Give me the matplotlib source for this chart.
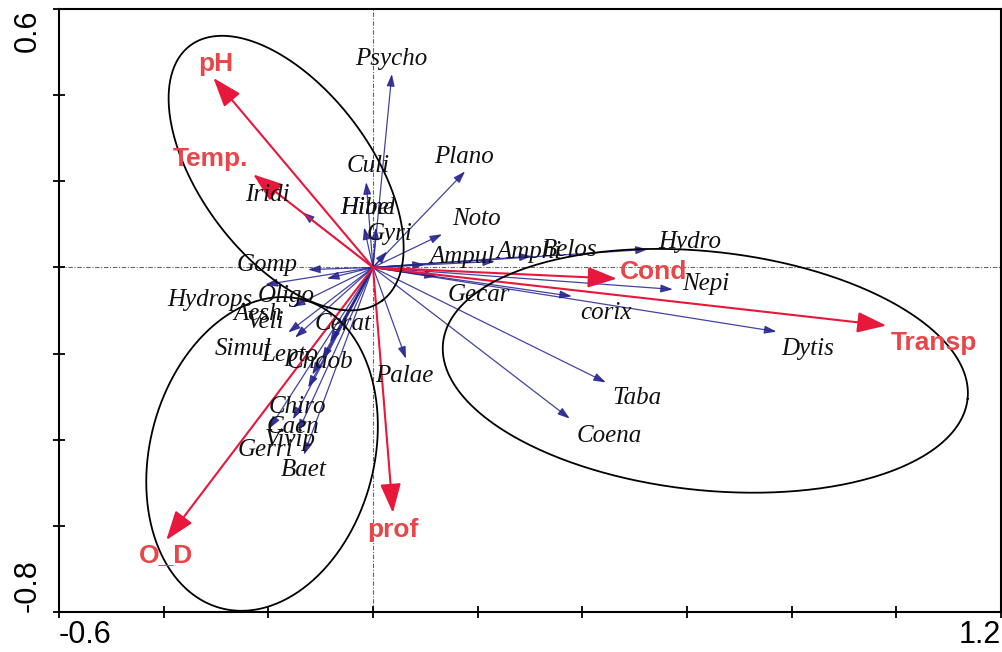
import numpy as np
import matplotlib
matplotlib.use("Agg")
import matplotlib.pyplot as plt

# ---- CCA biplot scores -------------------------------------------------
species = ["Psycho", "Plano", "Culi", "Hibel", "Hime", "Gyri", "Noto", "Iridi",
           "Gomp", "Hydrops", "Oligo", "Aesh", "Veli", "Simul", "Cerat",
           "Lepto", "Chaob", "Chiro", "Caen", "Gerri", "Vivip", "Baet",
           "Palae", "Ampul", "Amphi", "Belos", "Hydro", "Nepi", "Gecar",
           "corix", "Dytis", "Taba", "Coena"]
species_x = [0.036, 0.176, -0.013, -0.017, 0.006, 0.027, 0.132, -0.135,
             -0.124, -0.206, -0.088, -0.153, -0.162, -0.149, -0.082,
             -0.116, -0.097, -0.124, -0.153, -0.198, -0.143, -0.132,
             0.063, 0.099, 0.233, 0.303, 0.525, 0.573, 0.122,
             0.380, 0.771, 0.445, 0.376]
species_y = [0.449, 0.223, 0.198, 0.093, 0.093, 0.037, 0.077, 0.128,
             -0.005, -0.040, -0.026, -0.091, -0.151, -0.163, -0.174,
             -0.249, -0.214, -0.279, -0.353, -0.374, -0.381, -0.435,
             -0.212, 0.007, 0.014, 0.026, 0.042, -0.051, -0.021,
             -0.067, -0.149, -0.267, -0.351]

env_names = ["pH", "Temp.", "Cond", "Transp", "prof", "O_D"]
env_x = [-0.305, -0.229, 0.466, 0.981, 0.038, -0.395]
env_y = [0.440, 0.216, -0.026, -0.135, -0.570, -0.633]

x_ticks = [-0.6, -0.4, -0.2, 0.0, 0.2, 0.4, 0.6, 0.8, 1.0, 1.2]
y_ticks = [-0.8, -0.6, -0.4, -0.2, 0.0, 0.2, 0.4, 0.6]

# group envelopes: centre, semi-axes (x units), rotation (deg, screen space)
groups = [
    dict(cx=-0.166, cy=0.219, a=0.305, b=0.162, ang=-53.0),
    dict(cx=-0.212, cy=-0.433, a=0.305, b=0.214, ang=75.0),
    dict(cx=0.635, cy=-0.240, a=0.504, b=0.228, ang=-6.1),
]

# label placement relative to arrow tips (pixels)
sp_offsets = {
    "Psycho": (-1, 15), "Plano": (-1, 14), "Culi": (2, 16), "Hibel": (4, 19),
    "Hime": (-9, 19), "Gyri": (2, 17), "Noto": (34, 15), "Iridi": (-35, 17),
    "Gomp": (-41, 5), "Hydrops": (-55, -15), "Oligo": (-41, -17),
    "Aesh": (-35, -7), "Veli": (-23, 10), "Simul": (-52, -11),
    "Cerat": (13, 18), "Lepto": (-22, 20), "Chaob": (-2, -2),
    "Chiro": (-11, -19), "Caen": (0, -8), "Gerri": (-4, -21),
    "Vivip": (-8, -8), "Baet": (0, -15), "Palae": (-2, -17),
    "Ampul": (37, 7), "Amphi": (34, 9), "Belos": (38, 6), "Hydro": (42, 7),
    "Nepi": (33, 5), "Gecar": (42, -19), "corix": (34, -17),
    "Dytis": (31, -17), "Taba": (31, -16), "Coena": (39, -17),
}
env_offsets = {
    "pH": (2, 14), "Temp.": (-43, 15), "Cond": (37, 7),
    "Transp": (48, -17), "prof": (0, -17), "O_D": (0, -15),
}

SP_COLOR = "#23238f"
ENV_COLOR = "#e8173c"
ENV_TEXT = "#e8474a"

fig = plt.figure(figsize=(10.02, 6.52), dpi=100)
ax = fig.add_axes([59 / 1002, 40 / 652, 942 / 1002, 603 / 652])
ax.set_xlim(-0.6, 1.2)
ax.set_ylim(-0.8, 0.6)

# reference cross through the origin
ax.axhline(0, color="#666666", lw=0.8, ls=(0, (4, 1.5, 1, 1.5)), zorder=1)
ax.axvline(0, color="#666666", lw=0.8, ls=(0, (4, 1.5, 1, 1.5)), zorder=1)

# species arrows
for name, x, y in zip(species, species_x, species_y):
    ax.annotate("", xy=(x, y), xytext=(0, 0),
                arrowprops=dict(arrowstyle="-|>,head_length=0.9,head_width=0.3",
                                mutation_scale=8, lw=0.9, color=SP_COLOR,
                                shrinkA=0, shrinkB=0, alpha=0.85),
                zorder=2)

# environmental arrows
for name, x, y in zip(env_names, env_x, env_y):
    ax.annotate("", xy=(x, y), xytext=(0, 0),
                arrowprops=dict(arrowstyle="-|>,head_length=0.9,head_width=0.32",
                                mutation_scale=20, lw=1.5, color=ENV_COLOR,
                                shrinkA=0, shrinkB=0),
                zorder=3)

# envelopes drawn in screen-proportional space
fig.canvas.draw()
p0 = ax.transData.transform((0, 0))
p1 = ax.transData.transform((1, 1))
sx, sy = p1 - p0
t = np.linspace(0, 2 * np.pi, 400)
for g in groups:
    phi = np.deg2rad(g["ang"])
    du = g["a"] * np.cos(t) * np.cos(phi) - g["b"] * np.sin(t) * np.sin(phi)
    dv = g["a"] * np.cos(t) * np.sin(phi) + g["b"] * np.sin(t) * np.cos(phi)
    ax.plot(g["cx"] + du, g["cy"] + dv * sx / sy, color="black", lw=1.3,
            zorder=4)

# labels
for name, x, y in zip(species, species_x, species_y):
    ax.annotate(name, xy=(x, y), xytext=sp_offsets[name],
                textcoords="offset pixels", ha="center", va="center",
                fontsize=18, fontstyle="italic", family="Liberation Serif",
                color="#111111", zorder=5)
for name, x, y in zip(env_names, env_x, env_y):
    ax.annotate(name, xy=(x, y), xytext=env_offsets[name],
                textcoords="offset pixels", ha="center", va="center",
                fontsize=19, fontweight="bold", family="Liberation Sans",
                color=ENV_TEXT, zorder=5)

# axes frame and ticks
for s in ax.spines.values():
    s.set_linewidth(1.5)
ax.set_xticks(x_ticks)
ax.set_yticks(y_ticks)
ax.set_xticklabels([f"{v:g}" if i in (0, len(x_ticks) - 1) else ""
                    for i, v in enumerate(x_ticks)])
ax.set_yticklabels([f"{v:g}" if i in (0, len(y_ticks) - 1) else ""
                    for i, v in enumerate(y_ticks)])
ax.tick_params(axis="both", direction="inout", length=9, width=1.3,
               labelsize=22)
ax.tick_params(axis="x", pad=1)
ax.tick_params(axis="y", pad=18)
for lab in ax.get_xticklabels() + ax.get_yticklabels():
    lab.set_family("Liberation Sans")
xl = ax.get_xticklabels()
xl[0].set_ha("left")
xl[-1].set_ha("right")
yl = ax.get_yticklabels()
for lab in yl:
    lab.set_rotation(90)
    lab.set_ha("center")
yl[0].set_va("bottom")
yl[-1].set_va("top")

fig.savefig("out.png", dpi=100)
